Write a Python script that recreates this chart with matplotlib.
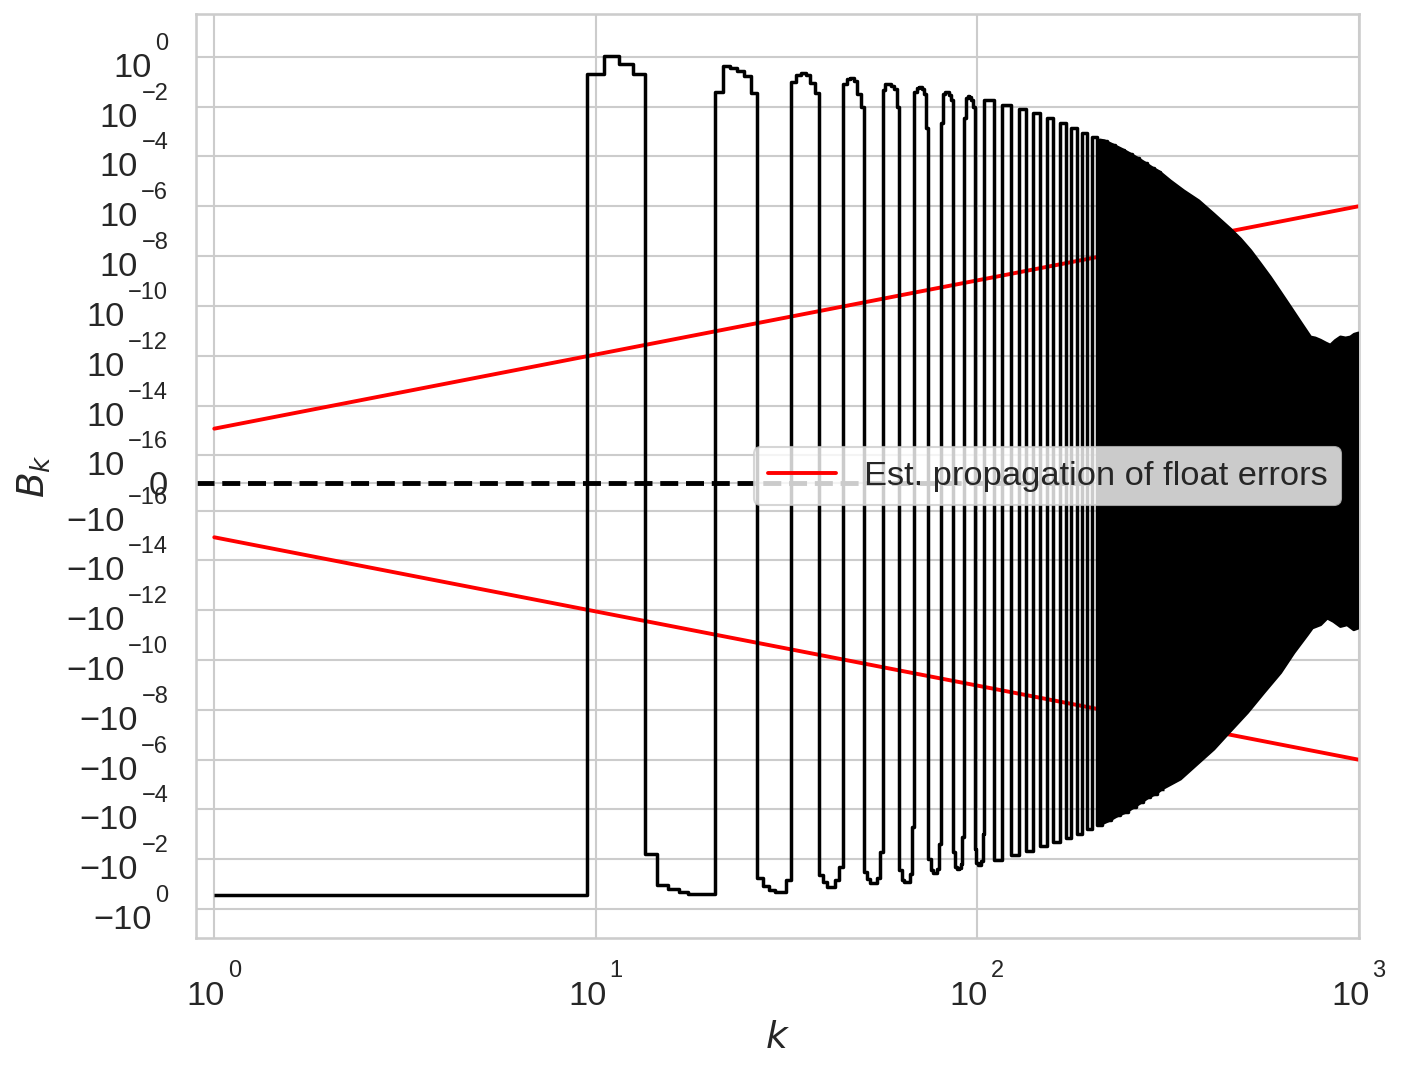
import numpy as np
import matplotlib.pyplot as plt
import matplotlib.ticker as mticker
import seaborn as sns

sns.set_theme(context='talk', style='whitegrid', font_scale=1.5)
plt.rcParams['font.family'] = ['Liberation Sans', 'DejaVu Sans']

# --- B_k dla k = 1..104, jedna wartosc na k (log10|B_k| i znak) ---
k_early = np.arange(1, 105)
logmag_early = ([-0.57] * 9
                + [-0.70, 0.03, -0.27, -0.67]
                + [-2.2, -0.95, -0.8, -0.68, -0.62, -0.6, -0.6]
                + [-1.4, -0.37, -0.45, -0.56, -0.77, -1.44]
                + [-1.24, -0.93, -0.77, -0.68, -0.7, -1.15]
                + [-1.0, -0.72, -0.65, -0.72, -1.05, -1.47]
                + [-1.37, -1.1, -0.9, -0.9, -1.15, -1.7]
                + [-1.1, -0.87, -0.86, -0.97, -1.5, -2.0]
                + [-1.5, -1.21, -1.05, -1.05, -1.24, -2.3]
                + [-1.33, -1.07, -1.07, -1.15, -1.3, -2.0]
                + [-1.57, -1.15, -1.07, -1.07, -1.4, -3.3]
                + [-1.4, -1.25, -1.23, -1.3, -1.5, -2.87]
                + [-2.0, -1.55, -1.45, -1.45, -1.6, -2.6]
                + [-2.67, -1.5, -1.4, -1.42, -1.55, -1.75]
                + [-2.3, -1.7, -1.63, -1.65, -1.8, -2.9]
                + [-2.47, -1.65, -1.56, -1.6, -1.75, -2.0]
                + [-2.4, -1.85, -1.76, -1.78, -1.95, -3.0])
sign_early = [-1] * 9 + [1] * 4 + [-1] * 7 + ([1] * 6 + [-1] * 6) * 7

# --- dalej: pelne "platy" po 6 wartosci k (104.5 .. 308.5), amplituda kazdego platu ---
lobe_edges = np.arange(104.5, 309, 6)
lobe_logmag = [-1.75, -1.96, -1.92, -2.19, -2.08, -2.35, -2.27, -2.55, -2.45, -2.7,
               -2.64, -2.85, -2.84, -3.03, -3.04, -3.23, -3.2, -3.36, -3.38, -3.56,
               -3.55, -3.76, -3.72, -3.9, -3.9, -4.1, -4.08, -4.3, -4.27, -4.5,
               -4.46, -4.63, -4.62, -4.83]
lobe_sign = [1, -1] * 17

# --- gesty obszar (k > ~210): obwiednia gorna i dolna ---
upper_k = [210, 215.5, 227.5, 239.5, 251.5, 263.5, 275.5, 287.5, 300, 321, 348, 381,
           417, 461, 490, 521, 553, 587, 624, 663, 704, 748, 770, 795, 820, 844, 870,
           897, 925, 953, 975, 1000]
upper_logmag = [-3.35, -3.38, -3.55, -3.72, -3.9, -4.08, -4.27, -4.46, -4.62, -4.99,
                -5.39, -5.79, -6.32, -6.92, -7.32, -7.79, -8.32, -8.86, -9.46, -10.06,
                -10.66, -11.26, -11.3, -11.39, -11.5, -11.59, -11.4, -11.26, -11.3,
                -11.26, -11.15, -11.1]
lower_k = [210, 221.5, 233.5, 245.5, 257.5, 269.5, 281.5, 293.5, 305, 341, 377, 417,
           461, 511, 564, 624, 676, 734, 756, 795, 828, 861, 897, 934, 972, 1000]
lower_logmag = [-3.4, -3.56, -3.76, -3.9, -4.1, -4.3, -4.5, -4.63, -4.83, -5.23, -5.83,
                -6.43, -7.16, -7.9, -8.7, -9.5, -10.3, -11.03, -11.3, -11.43, -11.7,
                -11.56, -11.36, -11.43, -11.23, -11.3]

# --- szacowana propagacja bledow float ---
err_k = np.array([1, 1000])
err_logmag = np.array([-14.93, -6.0])

# ticki
xtick_exps = [0, 1, 2, 3]
ytick_exps = [0, -2, -4, -6, -8, -10, -12, -14, -16]

# ================= RYSOWANIE =================
edges = np.concatenate([[1.0], k_early + 0.5, lobe_edges[1:]])
vals = np.concatenate([np.array(sign_early) * 10.0 ** np.array(logmag_early),
                       np.array(lobe_sign) * 10.0 ** np.array(lobe_logmag)])

poly_k = upper_k + lower_k[::-1]
poly_v = list(10.0 ** np.array(upper_logmag)) + list(-10.0 ** np.array(lower_logmag)[::-1])

fig = plt.figure(figsize=(14.02, 10.71), dpi=100)
ax = fig.add_axes([0.1400, 0.1242, 0.8290, 0.8627])

ax.plot(err_k, 10.0 ** err_logmag, color='#ff0000', lw=2.8, label='Est. propagation of float errors')
ax.plot(err_k, -10.0 ** err_logmag, color='#ff0000', lw=2.8)
ax.axhline(0, color='#000000', ls='--', lw=3.5, zorder=2.5)

ax.fill(poly_k, poly_v, facecolor='#000000', edgecolor='#000000', lw=2.5, joinstyle='round', zorder=3)
ax.stairs(vals, edges, baseline=None, color='#000000', lw=2.5, joinstyle='round', zorder=3)

ax.set_xscale('log')
ax.set_yscale('symlog', linthresh=1e-16)
ax.set_xlim(0.897, 1000)
ax.set_ylim(-10 ** 1.16, 10 ** 1.72)

yt = [10.0 ** e for e in ytick_exps] + [0.0] + [-10.0 ** e for e in ytick_exps]
ax.set_yticks(yt)
ax.set_xticks([10.0 ** e for e in xtick_exps])
ax.xaxis.set_minor_locator(mticker.NullLocator())
ax.yaxis.set_minor_locator(mticker.NullLocator())
ax.xaxis.set_major_formatter(mticker.NullFormatter())
ax.yaxis.set_major_formatter(mticker.NullFormatter())

# etykiety tickow w starym stylu (wysoko podniesiony wykladnik)
fs_base, fs_sup = 24.75, 17
for e in ytick_exps:
    for sgn, base in [(1, '10'), (-1, '\u221210')]:
        sup = ax.annotate(f'{e}'.replace('-', '\u2212'), xy=(0, sgn * 10.0 ** e),
                          xycoords=('axes fraction', 'data'), xytext=(-28, 7),
                          textcoords='offset pixels', ha='right', va='baseline',
                          fontsize=fs_sup, annotation_clip=False)
        ax.annotate(base, xy=(0, sgn * 10.0 ** e), xycoords=(sup, 'data'),
                    xytext=(-3.5, -20), textcoords='offset pixels', ha='right',
                    va='baseline', fontsize=fs_base, annotation_clip=False)
ax.annotate('0', xy=(0, 0), xycoords=('axes fraction', 'data'), xytext=(-28, -12.5),
            textcoords='offset pixels', ha='right', va='baseline', fontsize=fs_base,
            annotation_clip=False)
for e in xtick_exps:
    base = ax.annotate('10', xy=(10.0 ** e, 0), xycoords=('data', 'axes fraction'),
                       xytext=(-8.3, -67), textcoords='offset pixels', ha='center',
                       va='baseline', fontsize=fs_base, annotation_clip=False)
    ax.annotate(f'{e}', xy=(1, 0), xycoords=(base, 'axes fraction'),
                xytext=(2.5, -38.7), textcoords='offset pixels', ha='left',
                va='baseline', fontsize=fs_sup, annotation_clip=False)

ax.set_xlabel('$k$')
ax.set_ylabel('$B_k$')
ax.xaxis.set_label_coords(0.5, -0.0887)
ax.yaxis.set_label_coords(-0.123, 0.5)
ax.legend(loc='center right')

fig.savefig('out.png', dpi=100)
